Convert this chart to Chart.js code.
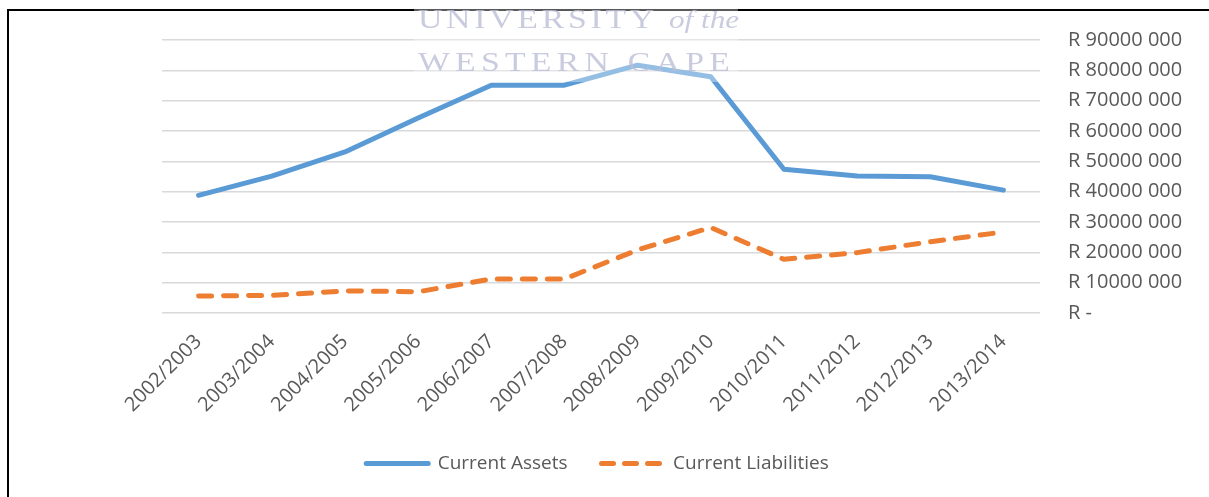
<!DOCTYPE html>
<html>
<head>
<meta charset="utf-8">
<script src="https://cdn.jsdelivr.net/npm/chart.js@4.4.0/dist/chart.umd.min.js"></script>
<style>
  html, body { margin: 0; padding: 0; background: #fff; overflow: hidden; }
  #wrap { position: relative; width: 1209px; height: 497px; }
  #frame {
    position: absolute; left: 7px; top: 9px; width: 1400px; height: 700px;
    border-left: 2px solid #000; border-top: 2px solid #000;
  }
  #box { position: absolute; left: 0; top: 0; width: 1209px; height: 497px; }
  #mark {
    position: absolute; left: 414px; top: 0px; width: 324px; height: 82px;
    background: rgba(255, 255, 255, 0.35);
    font-family: "Liberation Serif", "DejaVu Serif", serif;
    color: rgba(188, 190, 214, 0.8);
    font-size: 27px; line-height: 38px; white-space: nowrap;
  }
  #mark span { position: absolute; left: 4px; transform-origin: 0 0; transform: scaleX(1.25); }
  #mark .l1 { top: 0px; letter-spacing: 3px; }
  #mark .l1 i { letter-spacing: 0px; font-size: 25px; }
  #mark .l2 { top: 43px; letter-spacing: 4.2px; }
</style>
</head>
<body>
<div id="wrap">
  <div id="frame"></div>
  <div id="box"><canvas id="chart" width="1209" height="497"></canvas></div>
  <div id="mark"><span class="l1">UNIVERSITY <i>of the</i></span><span class="l2">WESTERN CAPE</span></div>
</div>
<script>
const years = ["2002/2003", "2003/2004", "2004/2005", "2005/2006", "2006/2007", "2007/2008",
  "2008/2009", "2009/2010", "2010/2011", "2011/2012", "2012/2013", "2013/2014"];

// rand values
const currentAssets = [38800000, 45100000, 53100000, 64300000, 75100000, 75100000,
  81700000, 77900000, 47400000, 45200000, 44900000, 40500000];
const currentLiabilities = [5600000, 5800000, 7300000, 7000000, 11200000, 11200000,
  20800000, 28200000, 17700000, 19900000, 23500000, 26700000];

const yTickValues = [0, 10000000, 20000000, 30000000, 40000000, 50000000,
  60000000, 70000000, 80000000, 90000000];
const yTickLabels = ["R -", "R 10000 000", "R 20000 000", "R 30000 000", "R 40000 000",
  "R 50000 000", "R 60000 000", "R 70000 000", "R 80000 000", "R 90000 000"];

const textColor = "#595959";
const fontFamily = "'Open Sans', sans-serif";

new Chart(document.getElementById("chart"), {
  type: "line",
  data: {
    labels: years,
    datasets: [
      {
        label: "Current Assets",
        data: currentAssets,
        borderColor: "#5B9BD5",
        backgroundColor: "#5B9BD5",
        borderWidth: 5,
        borderCapStyle: "round",
        borderJoinStyle: "round",
        pointRadius: 0,
        tension: 0
      },
      {
        label: "Current Liabilities",
        data: currentLiabilities,
        borderColor: "#ED7D31",
        backgroundColor: "#ED7D31",
        borderWidth: 5,
        borderDash: [13, 12],
        borderCapStyle: "round",
        borderJoinStyle: "round",
        pointRadius: 0,
        tension: 0
      }
    ]
  },
  options: {
    responsive: false,
    animation: false,
    layout: { padding: { left: 0, right: 14, top: 27, bottom: 14 } },
    plugins: {
      tooltip: { enabled: false },
      legend: {
        position: "bottom",
        labels: {
          usePointStyle: true,
          pointStyle: "line",
          pointStyleWidth: 62,
          padding: 34,
          color: textColor,
          font: { family: fontFamily, size: 19 },
          generateLabels: chart => {
            const items = Chart.defaults.plugins.legend.labels.generateLabels(chart);
            items.forEach((it, i) => {
              it.lineDash = chart.data.datasets[i].borderDash ? [12, 11] : [];
              it.lineCap = "round";
            });
            return items;
          }
        }
      }
    },
    scales: {
      x: {
        offset: true,
        grid: { display: false, drawTicks: false },
        border: { display: false },
        afterFit: axis => { axis.height = 107; },
        ticks: {
          color: textColor,
          font: { family: fontFamily, size: 20 },
          maxRotation: 45,
          minRotation: 45,
          padding: 17,
          autoSkip: false
        }
      },
      spacer: {
        type: "linear",
        position: "left",
        display: true,
        grid: { display: false },
        border: { display: false },
        ticks: { display: false },
        afterFit: axis => { axis.width = 162; }
      },
      y: {
        position: "right",
        min: 0,
        max: 90000000,
        afterBuildTicks: axis => {
          axis.ticks = yTickValues.map(v => ({ value: v }));
        },
        afterFit: axis => { axis.width = 155; },
        grid: { color: "#d9d9d9", lineWidth: 1.4, drawTicks: false },
        border: { display: false },
        ticks: {
          color: textColor,
          font: { family: fontFamily, size: 20 },
          padding: 28,
          callback: value => yTickLabels[yTickValues.indexOf(value)]
        }
      }
    }
  }
});
</script>
</body>
</html>
